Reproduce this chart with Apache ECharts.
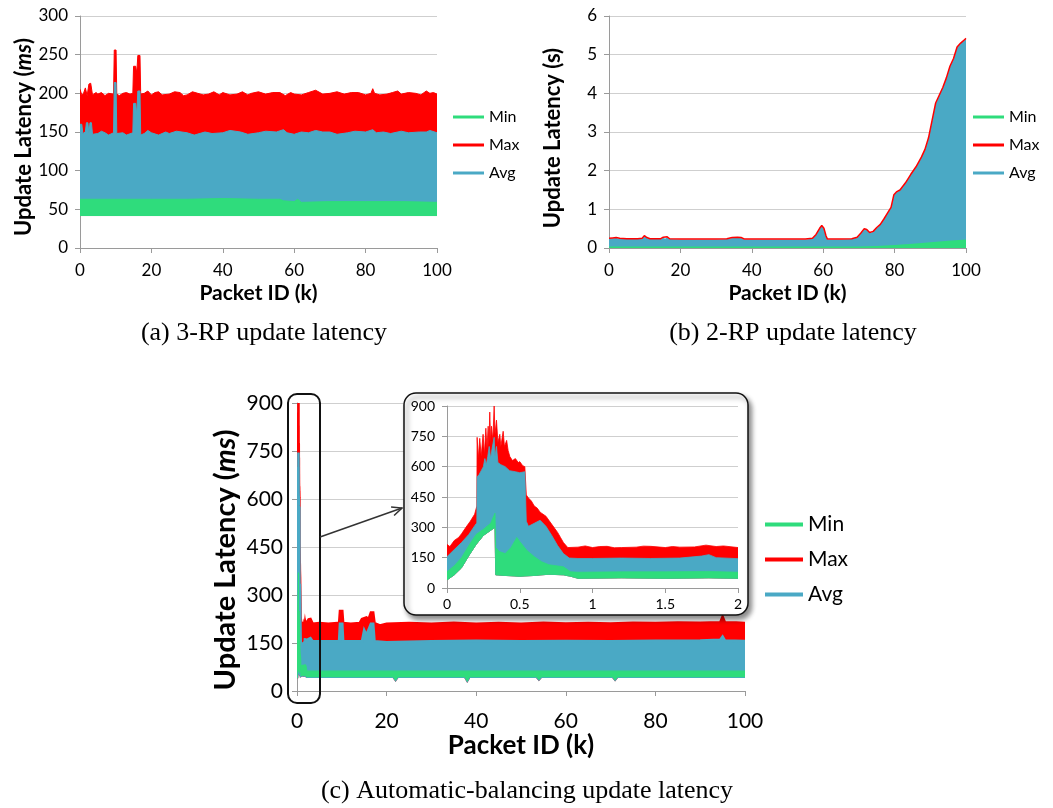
<!DOCTYPE html>
<html><head><meta charset="utf-8">
<script src="https://cdn.jsdelivr.net/npm/echarts@6/dist/echarts.min.js"></script>
<style>html,body{margin:0;padding:0;background:#fff}#c{width:1053px;height:808px}</style>
</head><body><div id="c"></div>
<script>
// ---------- DATA ----------
const legendNames = ['Min', 'Max', 'Avg'];

// (a) 3-RP update latency (ms) — envelopes [packetK, ms]
const a_maxTop = [[0,205],[0.5,198],[1,200],[1.5,207],[2,197],[2.5,212],[3,213],[3.5,198],[4.5,201],[5,199],[6,201],[7,197],[8,200],[9.4,199],[9.6,256],[10.1,256],[10.3,199],[11,197],[12,200],[13,201],[14,199],[14.8,200],[15,235],[15.6,235],[15.9,226],[16.2,249],[16.8,249],[17,199],[18,200],[19,203],[20,198],[21,201],[22,202],[23,198],[25,199],[26.5,202],[28,201],[29,197],[30,198],[31.5,202],[33,200],[34.5,198],[36,199],[37.5,202],[39,198],[40,201],[42,198],[44,199],[45.5,202],[47,198],[48,200],[50,202],[52,199],[54,201],[56,201],[57.5,197],[59,201],[60,199],[62,198],[64,201],[66,204],[68,199],[70,200],[72,202],[74,199],[76,201],[78,201],[80,198],[81.5,200],[82,206],[82.5,200],[84,198],[86,199],[87.5,201],[89,203],[90,199],[92,201],[94,200],[95.5,198],[97,203],[98,200],[99,201],[100,199]];
const a_avgTop = [[0,160],[0.5,160],[0.8,148],[1.5,150],[1.8,162],[2.2,162],[2.5,148],[2.8,162],[3.2,162],[3.5,147],[5,148],[6,151],[7,149],[8,146],[9.4,149],[9.6,214],[10.1,214],[10.3,148],[12,149],[13,146],[14.8,149],[15,187],[15.6,187],[15.9,172],[16.2,203],[16.8,203],[17,146],[18,148],[19,152],[20,149],[22,146],[24,150],[25,148],[27,151],[30,149],[32,146],[35,150],[37,148],[40,149],[42,152],[45,150],[47,147],[50,149],[52,151],[55,150],[57,153],[58,149],[60,147],[62,150],[64,149],[66,152],[68,150],[70,150],[72,147],[75,149],[77,151],[80,150],[82,153],[83,149],[85,150],[87,148],[90,151],[92,149],[95,150],[97,150],[98,152],[100,149]];
const a_minTop = [[0,63],[10,63],[20,63],[30,63],[40,64],[50,63],[56,63],[57,61],[60,60],[61,63],[62,59],[70,60],[80,60],[90,60],[100,59]];
const a_minBase = [[0,42],[10,42],[20,42],[30,42],[40,42],[50,42],[60,42],[70,42],[80,42],[90,42],[100,42]];

// (b) 2-RP update latency (s)
const b_max = [[0,0.25],[1,0.26],[2,0.27],[3,0.25],[5,0.24],[8,0.24],[9.3,0.25],[9.9,0.32],[10.6,0.27],[11.5,0.24],[14.5,0.24],[15.2,0.28],[15.7,0.25],[16.3,0.29],[17,0.24],[20,0.23],[25,0.23],[30,0.23],[33,0.24],[34.5,0.27],[36,0.28],[37,0.27],[38,0.23],[45,0.23],[50,0.23],[55,0.23],[57,0.25],[58,0.35],[59,0.51],[59.6,0.58],[60.2,0.51],[60.8,0.31],[61.2,0.23],[65,0.23],[68,0.24],[69.5,0.28],[70.5,0.38],[71.5,0.5],[72.2,0.48],[73,0.4],[74,0.43],[75,0.53],[76,0.61],[77,0.75],[78,0.9],[79,1.05],[79.8,1.38],[80.5,1.45],[81.5,1.5],[83,1.68],[84.5,1.9],[86,2.1],[87.5,2.35],[88.5,2.55],[89.5,2.85],[90.5,3.3],[91.5,3.75],[92.5,3.95],[93.5,4.15],[94.5,4.4],[95.5,4.7],[96.5,4.9],[97.5,5.2],[98.5,5.3],[99.5,5.38],[100,5.42]];
const b_avgTop = [[0,0.24],[1,0.25],[2,0.26],[3,0.24],[5,0.23],[8,0.23],[9.3,0.24],[9.9,0.31],[10.6,0.26],[11.5,0.23],[14.5,0.23],[15.2,0.27],[15.7,0.24],[16.3,0.28],[17,0.23],[20,0.22],[25,0.22],[30,0.22],[33,0.23],[34.5,0.26],[36,0.27],[37,0.26],[38,0.22],[45,0.22],[50,0.22],[55,0.22],[57,0.24],[58,0.34],[59,0.5],[59.6,0.57],[60.2,0.5],[60.8,0.3],[61.2,0.22],[65,0.22],[68,0.23],[69.5,0.27],[70.5,0.37],[71.5,0.49],[72.2,0.47],[73,0.39],[74,0.42],[75,0.52],[76,0.6],[77,0.74],[78,0.89],[79,1.04],[79.8,1.37],[80.5,1.44],[81.5,1.49],[83,1.67],[84.5,1.89],[86,2.09],[87.5,2.34],[88.5,2.54],[89.5,2.84],[90.5,3.29],[91.5,3.74],[92.5,3.94],[93.5,4.14],[94.5,4.39],[95.5,4.69],[96.5,4.89],[97.5,5.19],[98.5,5.29],[99.5,5.37],[100,5.41]];
const b_minTop = [[0,0.04],[20,0.04],[40,0.04],[60,0.04],[70,0.04],[75,0.05],[80,0.08],[85,0.11],[90,0.15],[95,0.19],[100,0.22]];
const b_minBase = [[0,0],[100,0]];

// (c) inset: first 2k packets (ms)
const i_maxTop = [[0,215],[0.02,205],[0.05,235],[0.08,250],[0.1,268],[0.13,300],[0.16,330],[0.19,365],[0.205,405],[0.207,745],[0.215,640],[0.225,740],[0.235,650],[0.248,760],[0.257,660],[0.267,790],[0.275,690],[0.283,800],[0.288,700],[0.294,870],[0.3,720],[0.306,800],[0.315,730],[0.324,900],[0.33,760],[0.34,830],[0.35,720],[0.363,760],[0.37,700],[0.386,775],[0.395,700],[0.41,730],[0.42,680],[0.432,650],[0.45,630],[0.47,640],[0.49,620],[0.5,625],[0.52,605],[0.535,600],[0.545,460],[0.56,445],[0.58,430],[0.6,405],[0.62,395],[0.64,375],[0.66,365],[0.68,355],[0.7,335],[0.72,315],[0.74,295],[0.76,275],[0.78,250],[0.8,225],[0.83,200],[0.9,202],[0.95,208],[1.0,200],[1.05,205],[1.1,206],[1.15,199],[1.2,200],[1.3,202],[1.35,207],[1.4,206],[1.5,200],[1.55,205],[1.6,202],[1.7,203],[1.78,212],[1.85,205],[1.9,208],[2.0,200]];
const i_avgTop = [[0,155],[0.05,190],[0.1,225],[0.15,265],[0.2,318],[0.205,320],[0.207,550],[0.22,560],[0.235,580],[0.25,600],[0.26,640],[0.27,610],[0.28,650],[0.29,700],[0.3,640],[0.31,690],[0.324,745],[0.33,650],[0.34,700],[0.35,620],[0.37,610],[0.4,600],[0.43,580],[0.47,575],[0.5,570],[0.535,575],[0.545,330],[0.56,305],[0.6,320],[0.64,335],[0.68,305],[0.72,260],[0.76,210],[0.8,170],[0.84,148],[0.9,146],[1.0,146],[1.2,148],[1.4,146],[1.6,148],[1.75,158],[1.8,165],[1.85,150],[2.0,145]];
const i_minTop = [[0,80],[0.05,110],[0.1,150],[0.15,210],[0.2,265],[0.25,290],[0.3,320],[0.33,370],[0.335,200],[0.36,180],[0.4,170],[0.44,200],[0.48,250],[0.5,230],[0.55,185],[0.6,155],[0.65,130],[0.7,115],[0.8,105],[0.85,80],[0.9,78],[1.2,80],[1.5,80],[1.8,82],[2.0,78]];
const i_minBase = [[0,40],[0.05,65],[0.1,100],[0.15,160],[0.2,215],[0.25,260],[0.3,285],[0.33,300],[0.335,65],[0.4,62],[0.5,58],[0.6,62],[0.7,68],[0.8,65],[0.85,58],[0.9,48],[1.2,50],[1.5,48],[1.8,50],[2.0,48]];

// (c) main chart beyond 2k packets (ms)
const c_maxTop = [[2.2,215],[2.6,224],[3,225],[3.5,210],[5,212],[7,210],[9,212],[9.4,211],[9.6,250],[10.1,250],[10.3,212],[12,210],[14,212],[14.5,225],[15.5,230],[16,225],[16.5,245],[17,245],[17.3,212],[18.5,205],[20,210],[25,212],[30,210],[35,213],[40,210],[45,212],[50,210],[55,213],[60,211],[65,212],[70,211],[75,213],[80,212],[85,214],[90,213],[94.5,215],[95,232],[95.5,215],[98,214],[100,212]];
const c_avgTop = [[2.2,160],[3,165],[3.5,155],[9.4,156],[9.6,210],[10.1,210],[10.3,155],[14.5,155],[15,190],[15.5,175],[16.5,210],[17,210],[17.3,155],[20,152],[30,155],[40,157],[50,155],[60,156],[70,155],[80,157],[90,158],[94.5,160],[95,170],[95.5,158],[100,156]];
const c_minTop = [[2.2,62],[20,62],[40,62],[60,62],[80,62],[100,62]];
const c_minBase = [[2.2,45],[21.5,45],[22,35],[22.5,45],[37.5,45],[38,33],[38.5,45],[53.5,45],[54,37],[54.5,45],[70.5,45],[71,36],[71.5,45],[100,45]];

// ---------- STYLE ----------
const FONT = 'Lato, "Open Sans", sans-serif';
const RED = '#ff0000', BLUE = '#4aa9c5', GREEN = '#2fdc7c';
const GRIDC = '#cfcfcf', AXC = '#9a9a9a';

function band(name, color, idx, top, base, z, lw) {
  return {
    type: 'custom', name: name, xAxisIndex: idx, yAxisIndex: idx, z: z,
    data: [[top[0][0], top[0][1]]], clip: true, silent: true, animation: false,
    itemStyle: { color: color },
    renderItem: function (params, api) {
      const pts = top.map(p => api.coord(p)).concat(base.slice().reverse().map(p => api.coord(p)));
      return { type: 'polygon', shape: { points: pts },
        style: { fill: color, stroke: lw ? color : null, lineWidth: lw || 0, lineJoin: 'miter' } };
    }
  };
}

function xAx(idx, min, max, interval, fs, margin, name, nfs, gap, z) {
  return {
    gridIndex: idx, type: 'value', min: min, max: max, interval: interval, z: z || 0,
    axisLine: { show: true, lineStyle: { color: AXC, width: 1 } },
    axisTick: { show: true, length: 5, lineStyle: { color: AXC } },
    splitLine: { show: false },
    axisLabel: { fontFamily: FONT, fontSize: fs, color: '#000', margin: margin, showMinLabel: true, showMaxLabel: true },
    name: name, nameLocation: 'middle', nameGap: gap,
    nameTextStyle: { fontFamily: FONT, fontSize: nfs, fontWeight: 'bold', color: '#000' }
  };
}
function yAx(idx, min, max, interval, fs, margin, name, nfs, gap, shift, z) {
  return {
    gridIndex: idx, type: 'value', min: min, max: max, interval: interval, z: z || 0,
    axisLine: { show: true, lineStyle: { color: AXC, width: 1 } },
    axisTick: { show: true, length: 5, lineStyle: { color: AXC } },
    splitLine: { show: true, lineStyle: { color: GRIDC, width: 1 } },
    axisLabel: { fontFamily: FONT, fontSize: fs, color: '#000', margin: margin },
    name: name, nameLocation: 'middle', nameGap: gap,
    nameTextStyle: {
      padding: [0, shift || 0, 0, 0],
      rich: {
        n: { fontFamily: FONT, fontSize: nfs, fontWeight: 'bold', color: '#000' },
        i: { fontFamily: FONT, fontSize: nfs, fontWeight: 'bold', fontStyle: 'italic', color: '#000' }
      }
    }
  };
}
function legend(left, top, iw, ih, fs, gap) {
  return {
    left: left, top: top, orient: 'vertical', padding: 0, icon: 'rect',
    itemWidth: iw, itemHeight: ih, itemGap: gap, selectedMode: false, data: legendNames,
    textStyle: { fontFamily: FONT, fontSize: fs, lineHeight: fs + 2, color: '#000' }
  };
}

const mainMax = i_maxTop.concat(c_maxTop);
const mainAvg = i_avgTop.concat(c_avgTop);
const mainMinTop = i_minTop.concat(c_minTop);
const mainMinBase = i_minBase.concat(c_minBase);

// arrow geometry (annotation)
const arrowFrom = [320, 537], arrowTo = [402, 508];
const dx = arrowTo[0] - arrowFrom[0], dy = arrowTo[1] - arrowFrom[1];
const L = Math.hypot(dx, dy), ux = dx / L, uy = dy / L;
const hb = [arrowTo[0] - 10 * ux, arrowTo[1] - 10 * uy];
const head = [[hb[0] - 4.5 * uy, hb[1] + 4.5 * ux], arrowTo, [hb[0] + 4.5 * uy, hb[1] - 4.5 * ux]];

const CAP = '"Liberation Serif", "Times New Roman", serif';

const option = {
  animation: false,
  backgroundColor: '#fff',
  grid: [
    { left: 80, top: 16, width: 357, height: 232, containLabel: false, outerBoundsMode: 'none' },
    { left: 609, top: 16, width: 357, height: 232, containLabel: false, outerBoundsMode: 'none' },
    { left: 297, top: 403, width: 448, height: 288, containLabel: false, outerBoundsMode: 'none' },
    { left: 447, top: 406, width: 291, height: 182, containLabel: false, outerBoundsMode: 'none', z: 6 }
  ],
  xAxis: [
    xAx(0, 0, 100, 20, 17, 14, 'Packet ID (k)', 21, 35),
    xAx(1, 0, 100, 20, 17, 14, 'Packet ID (k)', 21, 35),
    xAx(2, 0, 100, 20, 21, 20, 'Packet ID (k)', 26, 42),
    xAx(3, 0, 2, 0.5, 14, 9, '', 12, 20, 6)
  ],
  yAxis: [
    yAx(0, 0, 300, 50, 17, 12, '{n|Update Latency (}{i|ms}{n|)}', 22, 45, 10),
    yAx(1, 0, 6, 1, 17, 12, '{n|Update Latency (s)}', 22, 45, 12),
    yAx(2, 0, 900, 150, 21, 14, '{n|Update Latency (}{i|ms}{n|)}', 29, 57, 26),
    yAx(3, 0, 900, 150, 14, 12, '', 12, 20, 0, 6)
  ],
  legend: [
    legend(453, 108, 31, 3, 16, 10),
    legend(973, 108, 31, 3, 16, 10),
    legend(765, 513, 38, 4, 21, 12)
  ],
  series: [
    band('Max', RED, 0, a_maxTop, a_minBase, 2, 1),
    band('Avg', BLUE, 0, a_avgTop, a_minBase, 3, 1),
    band('Min', GREEN, 0, a_minTop, a_minBase, 4, 1),

    band('Avg', BLUE, 1, b_avgTop, b_minBase, 3, 0),
    band('Min', GREEN, 1, b_minTop, b_minBase, 4, 0),
    { type: 'line', name: 'Max', xAxisIndex: 1, yAxisIndex: 1, data: b_max, showSymbol: false, z: 5,
      lineStyle: { color: RED, width: 1.5 }, itemStyle: { color: RED }, silent: true },

    band('Max', RED, 2, mainMax, mainMinBase, 2, 2.6),
    band('Avg', BLUE, 2, mainAvg, mainMinBase, 3, 2.6),
    band('Min', GREEN, 2, mainMinTop, mainMinBase, 4, 1.2),

    band('Max', RED, 3, i_maxTop, i_minBase, 7, 0.8),
    band('Avg', BLUE, 3, i_avgTop, i_minBase, 8, 0.8),
    band('Min', GREEN, 3, i_minTop, i_minBase, 9, 0.8)
  ],
  graphic: {
    elements: [
      { type: 'rect', z: 5, shape: { x: 404, y: 393, width: 344, height: 222, r: 12 },
        style: { fill: '#fff', stroke: '#111', lineWidth: 1.5, shadowBlur: 5, shadowOffsetX: 3, shadowOffsetY: 4, shadowColor: 'rgba(0,0,0,0.45)' } },
      { type: 'rect', z: 20, shape: { x: 288, y: 394, width: 32, height: 309, r: 9 },
        style: { fill: 'none', stroke: '#111', lineWidth: 2 } },
      { type: 'polyline', z: 20, shape: { points: [arrowFrom, arrowTo] }, style: { stroke: '#333', lineWidth: 1.5, fill: null } },
      { type: 'polyline', z: 20, shape: { points: head }, style: { stroke: '#333', lineWidth: 1.5, fill: null } },
      { type: 'text', z: 20, x: 264, y: 333, style: { text: '(a) 3-RP update latency', fontFamily: CAP, fontSize: 26, fill: '#000', align: 'center', verticalAlign: 'middle' } },
      { type: 'text', z: 20, x: 793, y: 333, style: { text: '(b) 2-RP update latency', fontFamily: CAP, fontSize: 26, fill: '#000', align: 'center', verticalAlign: 'middle' } },
      { type: 'text', z: 20, x: 527, y: 791, style: { text: '(c) Automatic-balancing update latency', fontFamily: CAP, fontSize: 26, fill: '#000', align: 'center', verticalAlign: 'middle' } }
    ]
  }
};

const chart = echarts.init(document.getElementById('c'), null, { renderer: 'canvas' });
chart.setOption(option);
</script></body></html>
